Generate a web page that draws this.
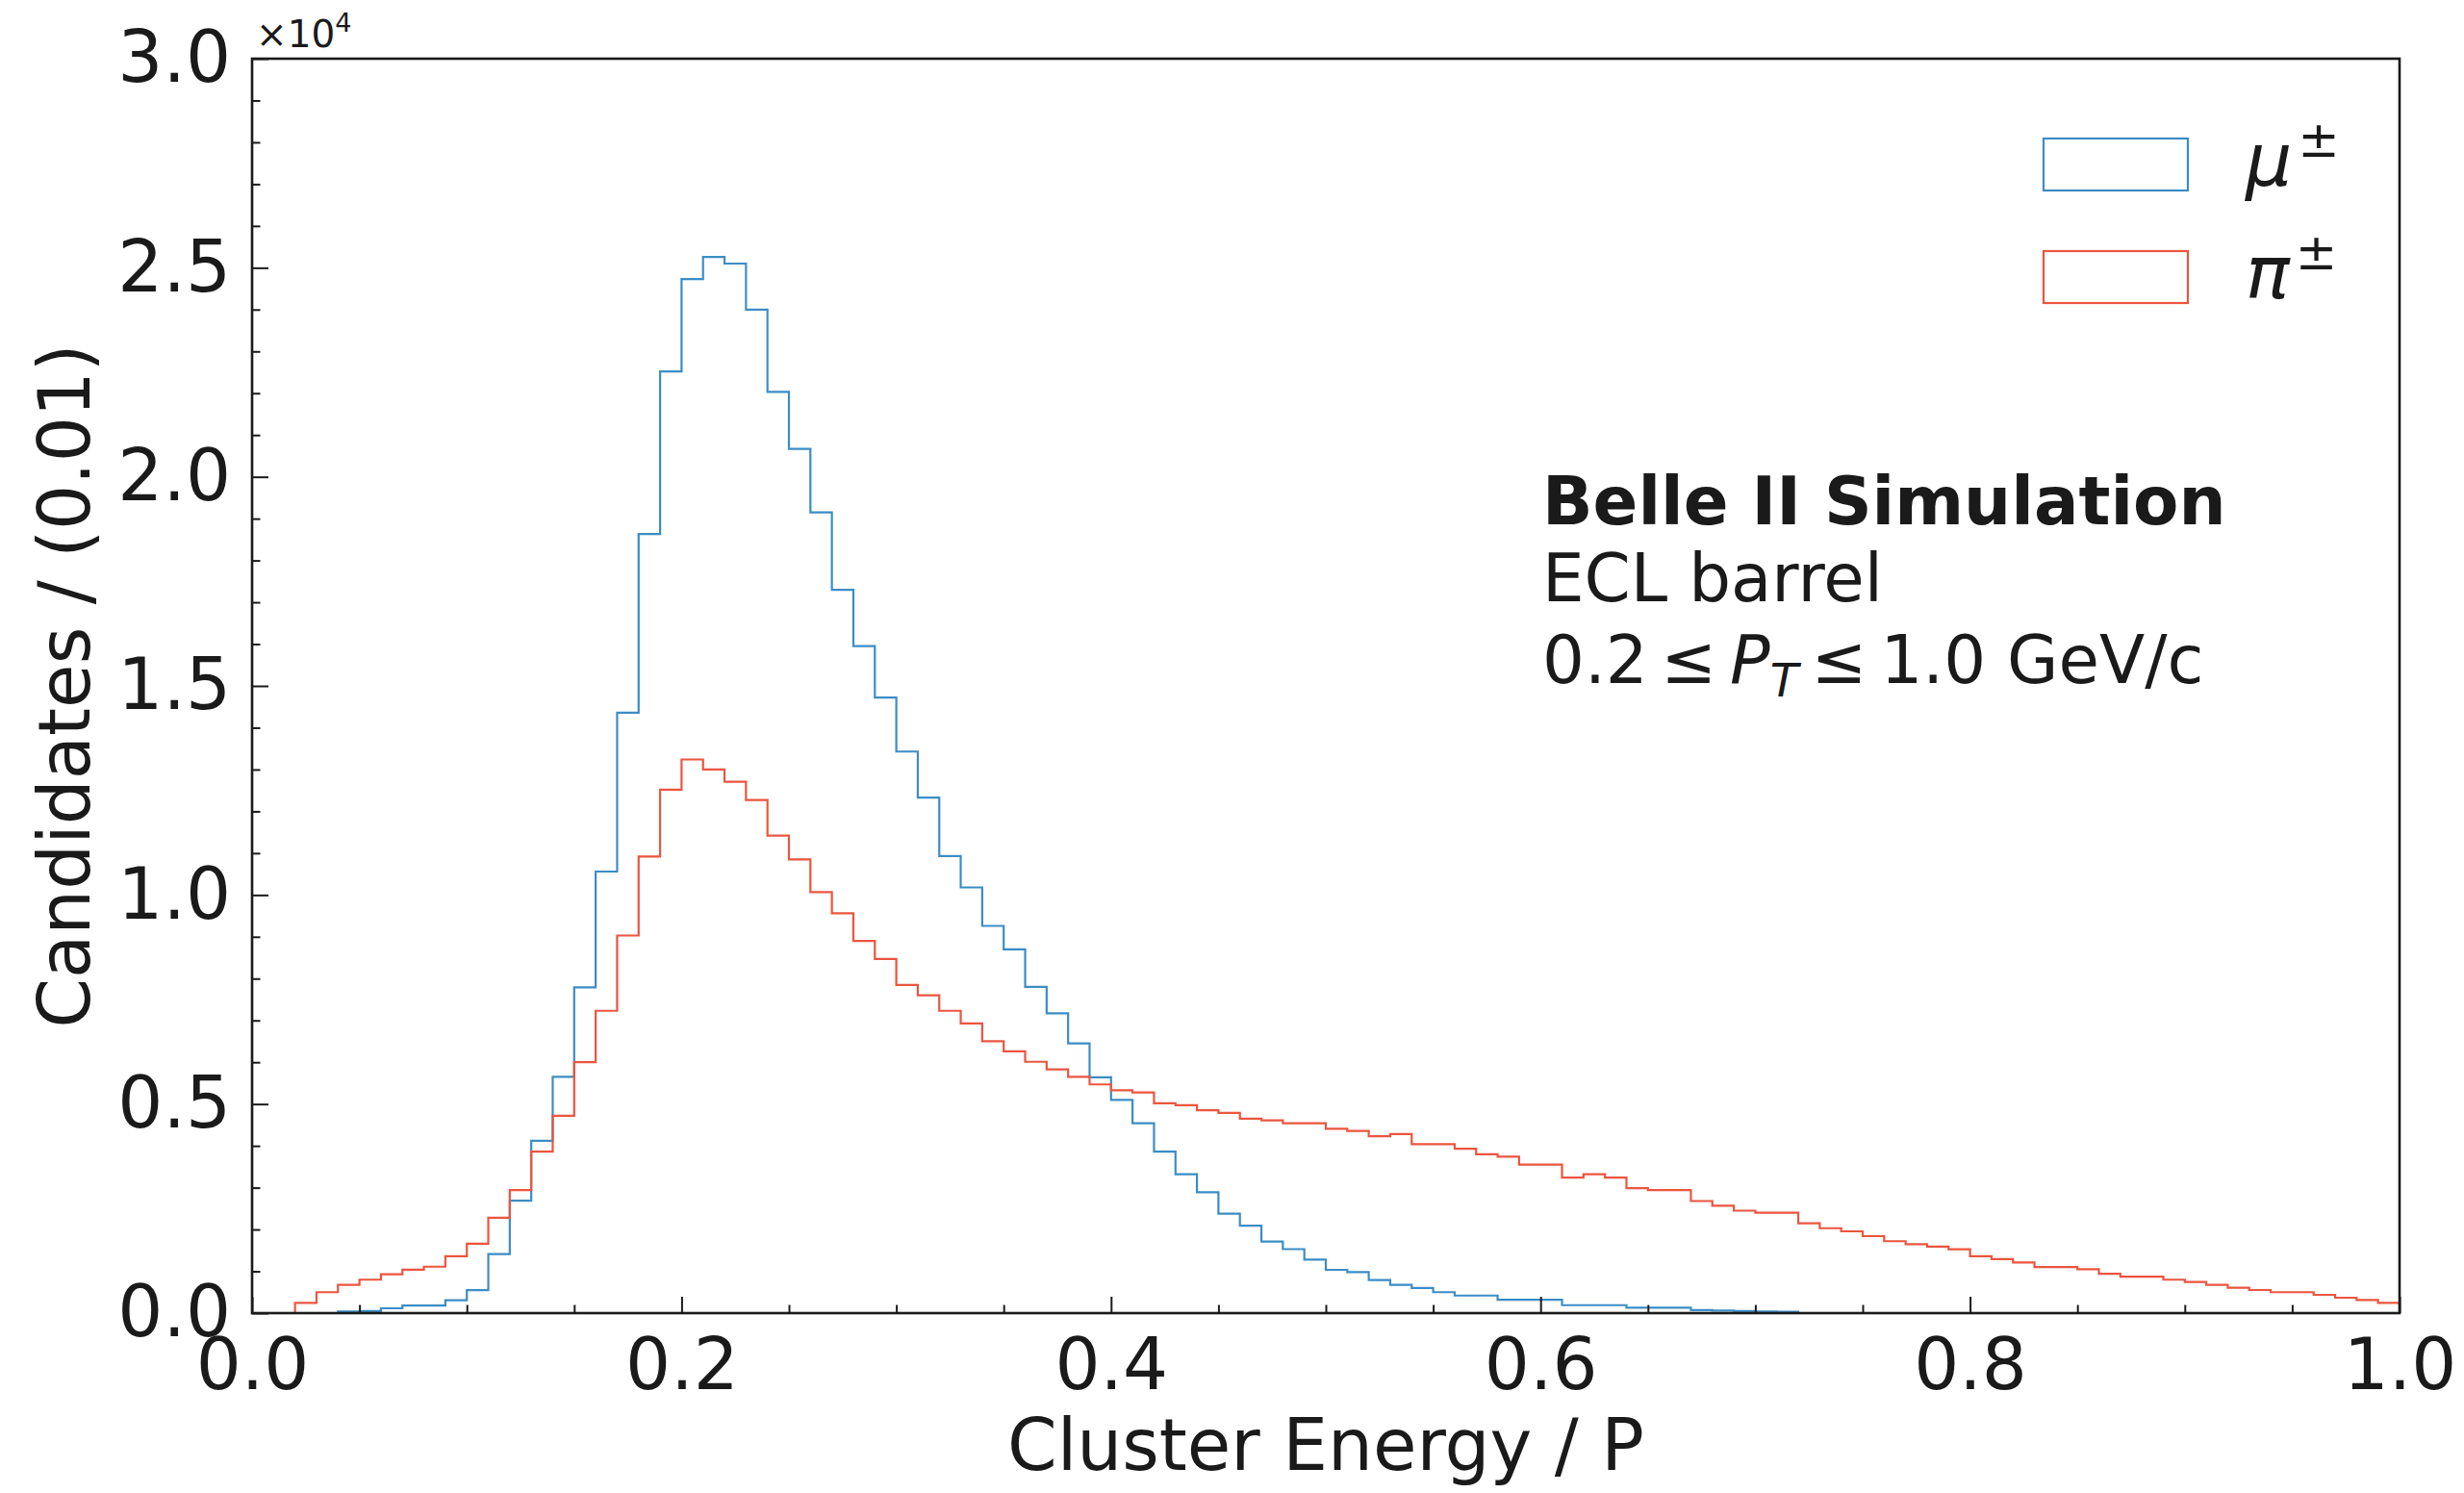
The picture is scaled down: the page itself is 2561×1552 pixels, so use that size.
<!DOCTYPE html>
<html>
<head>
<meta charset="utf-8">
<script src="https://cdn.jsdelivr.net/npm/d3@7"></script>
<style>
  html, body { margin: 0; padding: 0; background: #fff; }
  text { font-family: "DejaVu Sans", sans-serif; fill: #1a1a1a; }
</style>
</head>
<body>
<div id="chart"></div>
<script>
// bin width 0.01, 100 bins from 0.00 to 1.00 (counts per bin)
const binEdges = d3.range(0, 101).map((i) => i / 100);

const muCounts = [
  0, 0, 0, 0, 40, 50, 115, 180, 180, 310,
  550, 1410, 2690, 4120, 5650, 7790, 10560, 14360, 18630, 22520,
  24730, 25260, 25100, 24000, 22030, 20670, 19150, 17300, 15950, 14720,
  13430, 12330, 10930, 10180, 9260, 8700, 7800, 7170, 6450, 5640,
  5100, 4540, 3860, 3320, 2890, 2380, 2090, 1710, 1530, 1280,
  1035, 980, 790, 675, 600, 500, 420, 420, 320, 320,
  320, 190, 190, 190, 130, 130, 130, 70, 60, 50,
  40, 30, 0, 0, 0, 0, 0, 0, 0, 0,
  0, 0, 0, 0, 0, 0, 0, 0, 0, 0,
  0, 0, 0, 0, 0, 0, 0, 0, 0, 0,
];

const piCounts = [
  0, 0, 245, 500, 675, 800, 930, 1040, 1110, 1360,
  1660, 2280, 2940, 3860, 4720, 6000, 7230, 9030, 10920, 12520,
  13240, 13000, 12710, 12270, 11420, 10850, 10070, 9560, 8900, 8470,
  7850, 7600, 7230, 6930, 6500, 6260, 6010, 5830, 5650, 5470,
  5330, 5275, 5020, 4970, 4850, 4790, 4650, 4610, 4540, 4540,
  4410, 4355, 4230, 4280, 4040, 4040, 3930, 3800, 3740, 3550,
  3550, 3240, 3320, 3240, 2990, 2940, 2940, 2680, 2570, 2450,
  2400, 2400, 2150, 2030, 1955, 1840, 1720, 1650, 1590, 1526,
  1360, 1290, 1210, 1100, 1100, 1050, 940, 870, 870, 800,
  744, 675, 606, 552, 500, 500, 437, 368, 314, 245,
];

const series = [
  { name: "μ", counts: muCounts, color: "#3b8dc6" },
  { name: "π", counts: piCounts, color: "#eb553f" },
];

const xTicks = [0, 0.2, 0.4, 0.6, 0.8, 1.0];
const yTicks = [0, 5000, 10000, 15000, 20000, 25000, 30000];
const infoLines = ["Belle II Simulation", "ECL barrel"];

const width = 2561;
const height = 1552;
const margin = { top: 61, right: 67, bottom: 187, left: 262 };

const svg = d3
  .select("#chart")
  .append("svg")
  .attr("width", width)
  .attr("height", height);

const x = d3
  .scaleLinear()
  .domain([0, 1])
  .range([margin.left, width - margin.right]);

const y = d3
  .scaleLinear()
  .domain([0, 30000])
  .range([height - margin.bottom, margin.top]);

svg
  .append("defs")
  .append("clipPath")
  .attr("id", "plot-clip")
  .append("rect")
  .attr("x", x(0))
  .attr("y", y(30000))
  .attr("width", x(1) - x(0))
  .attr("height", y(0) - y(30000));

// step outline like histtype="step"
function stepPoints(counts) {
  const pts = [[binEdges[0], 0]];
  counts.forEach((c, i) => {
    pts.push([binEdges[i], c]);
    pts.push([binEdges[i + 1], c]);
  });
  pts.push([binEdges[binEdges.length - 1], 0]);
  return pts;
}

const line = d3
  .line()
  .x((d) => x(d[0]))
  .y((d) => y(d[1]));

svg
  .append("g")
  .attr("clip-path", "url(#plot-clip)")
  .selectAll("path")
  .data(series)
  .join("path")
  .attr("d", (d) => line(stepPoints(d.counts)))
  .attr("fill", "none")
  .attr("stroke", (d) => d.color)
  .attr("stroke-width", 2.2)
  .attr("stroke-linejoin", "miter");

// axes, ticks pointing inward
svg
  .append("g")
  .attr("transform", `translate(0,${y(0)})`)
  .call(
    d3
      .axisBottom(x)
      .tickValues(xTicks)
      .tickSize(-17)
      .tickPadding(26)
      .tickFormat(d3.format(".1f"))
  );

svg
  .append("g")
  .attr("transform", `translate(0,${y(0)})`)
  .call(
    d3
      .axisBottom(x)
      .tickValues(d3.range(0, 21).map((i) => i * 0.05).filter((v) => Math.round(v * 100) % 20 !== 0))
      .tickSize(-8.5)
      .tickFormat("")
  );

svg
  .append("g")
  .attr("transform", `translate(${x(0)},0)`)
  .call(
    d3
      .axisLeft(y)
      .tickValues(yTicks)
      .tickSize(-17)
      .tickPadding(22)
      .tickFormat((d) => (d / 10000).toFixed(1))
  );

svg
  .append("g")
  .attr("transform", `translate(${x(0)},0)`)
  .call(
    d3
      .axisLeft(y)
      .tickValues(d3.range(0, 31).map((i) => i * 1000).filter((v) => v % 5000 !== 0))
      .tickSize(-8.5)
      .tickFormat("")
  );

svg.selectAll(".domain").remove();
svg.selectAll(".tick line").attr("stroke", "#1a1a1a").attr("stroke-width", 2);
svg
  .selectAll(".tick text")
  .attr("font-size", 74)
  .attr("font-family", "DejaVu Sans")
  .attr("fill", "#1a1a1a");

// frame
svg
  .append("rect")
  .attr("x", x(0))
  .attr("y", y(30000))
  .attr("width", x(1) - x(0))
  .attr("height", y(0) - y(30000))
  .attr("fill", "none")
  .attr("stroke", "#1a1a1a")
  .attr("stroke-width", 2.6);

// offset text x10^4
const offset = svg
  .append("text")
  .attr("x", x(0) + 4)
  .attr("y", 49)
  .attr("font-size", 39);
offset.append("tspan").text("×10");
offset.append("tspan").attr("font-size", 27).attr("dy", -16).text("4");

// axis labels
svg
  .append("text")
  .attr("x", (x(0) + x(1)) / 2)
  .attr("y", 1528)
  .attr("text-anchor", "middle")
  .attr("font-size", 74)
  .text("Cluster Energy / P");

svg
  .append("text")
  .attr("transform", `translate(93,${(y(0) + y(30000)) / 2}) rotate(-90)`)
  .attr("text-anchor", "middle")
  .attr("font-size", 74)
  .text("Candidates / (0.01)");

// legend
const legend = svg
  .append("g")
  .selectAll("g")
  .data(series)
  .join("g")
  .attr("transform", (d, i) => `translate(2124,${144 + i * 117})`);

legend
  .append("rect")
  .attr("width", 150)
  .attr("height", 54)
  .attr("fill", "none")
  .attr("stroke", (d) => d.color)
  .attr("stroke-width", 2.2);

const legendText = legend
  .append("text")
  .attr("x", 210)
  .attr("y", 49)
  .attr("font-size", 76)
  .attr("font-style", "italic");
legendText.append("tspan").text((d) => d.name);
legendText
  .append("tspan")
  .attr("font-style", "normal")
  .attr("font-size", 52)
  .attr("dx", 6)
  .attr("dy", -30)
  .text("±");

// info text
svg
  .append("text")
  .attr("x", 1603)
  .attr("y", 545)
  .attr("font-size", 69)
  .attr("font-weight", "bold")
  .text(infoLines[0]);

svg
  .append("text")
  .attr("x", 1603)
  .attr("y", 625)
  .attr("font-size", 69)
  .text(infoLines[1]);

const ptLine = svg
  .append("text")
  .attr("x", 1603)
  .attr("y", 710)
  .attr("font-size", 69);
ptLine.append("tspan").text("0.2\u2009≤\u2009");
ptLine.append("tspan").attr("font-style", "italic").text("P");
ptLine
  .append("tspan")
  .attr("font-style", "italic")
  .attr("font-size", 48)
  .attr("dy", 14)
  .text("T");
ptLine.append("tspan").attr("dy", -14).text("\u2009≤\u20091.0 GeV/c");
</script>
</body>
</html>
